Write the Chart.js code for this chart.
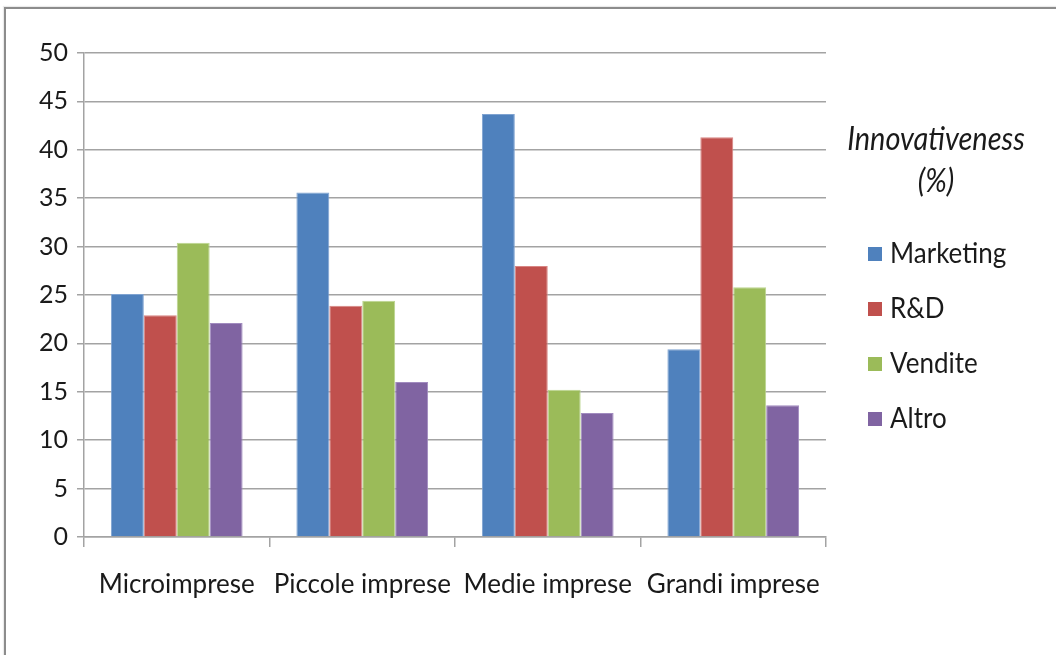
<!DOCTYPE html>
<html>
<head>
<meta charset="utf-8">
<script src="https://cdn.jsdelivr.net/npm/chart.js@4/dist/chart.umd.min.js"></script>
<style>
  html, body { margin: 0; padding: 0; background: #ffffff; overflow: hidden; }
  #wrap { position: relative; width: 1056px; height: 655px; }
  #frame {
    position: absolute; left: 4px; top: 7px; width: 1100px; height: 700px;
    border-left: 2px solid #8c8c8c; border-top: 2px solid #8c8c8c;
    box-shadow: -1px -1px 1px rgba(0,0,0,0.08);
  }
  #c { position: absolute; left: 0; top: 0; }
</style>
</head>
<body>
<div id="wrap">
  <div id="frame"></div>
  <canvas id="c" width="1056" height="655"></canvas>
</div>
<script>
// Innovativeness by company size and business function (%)
const categories = ['Microimprese', 'Piccole imprese', 'Medie imprese', 'Grandi imprese'];
const seriesNames = ['Marketing', 'R&D', 'Vendite', 'Altro'];
const marketing = [25.1, 35.6, 43.7, 19.4];
const rnd       = [22.9, 23.9, 28.0, 41.3];
const vendite   = [30.4, 24.4, 15.2, 25.8];
const altro     = [22.1, 16.0, 12.8, 13.6];
const yTicks    = [0, 5, 10, 15, 20, 25, 30, 35, 40, 45, 50];
const legendTitle = ['Innovativeness', '(%)'];

const fills   = ['#4F81BD', '#C0504D', '#9BBB59', '#8064A2'];
const borders = ['#7fa3d1', '#d88583', '#bcd58f', '#a18bbf'];
const seriesValues = [marketing, rnd, vendite, altro];

const FONT = 'Lato, "Open Sans", "DejaVu Sans", sans-serif';
const GRID = '#a3a3a3';

// Text drawn slightly taller than wide, like the narrow office font
function tallText(ctx, text, x, y, sy) {
  ctx.save();
  ctx.translate(x, y);
  ctx.scale(1, sy);
  ctx.fillText(text, 0, 0);
  ctx.restore();
}

// Legend on the right: italic title and square swatches
const sideLegend = {
  id: 'sideLegend',
  afterDraw(chart) {
    const ctx = chart.ctx;
    ctx.save();
    ctx.fillStyle = '#1a1a1a';
    ctx.textAlign = 'center';
    ctx.textBaseline = 'middle';
    ctx.font = 'italic 29px ' + FONT;
    tallText(ctx, legendTitle[0], 936, 140, 1.1);
    tallText(ctx, legendTitle[1], 936, 182, 1.1);
    ctx.textAlign = 'left';
    ctx.font = '26px ' + FONT;
    chart.data.datasets.forEach((ds, i) => {
      const y = 254 + i * 55;
      ctx.fillStyle = ds.backgroundColor;
      ctx.fillRect(868, y - 7, 14, 14);
      ctx.fillStyle = '#1a1a1a';
      tallText(ctx, ds.label, 890, y, 1.12);
    });
    ctx.restore();
  }
};

new Chart(document.getElementById('c'), {
  type: 'bar',
  data: {
    labels: categories,
    datasets: seriesNames.map((name, i) => ({
      label: name,
      data: seriesValues[i],
      backgroundColor: fills[i],
      borderColor: borders[i],
      borderWidth: 1,
      categoryPercentage: 0.71,
      barPercentage: 1.0
    }))
  },
  options: {
    responsive: false,
    animation: false,
    layout: { padding: { left: 0, right: 230, top: 53, bottom: 0 } },
    plugins: {
      legend: { display: false },
      tooltip: { enabled: false }
    },
    scales: {
      x: {
        afterFit(s) { s.height = 118; },
        grid: {
          offset: true,
          drawOnChartArea: false,
          drawTicks: true,
          tickLength: 10,
          color: GRID,
          lineWidth: 1.5
        },
        border: { color: GRID, width: 1.5 },
        ticks: {
          color: '#1a1a1a',
          font: { family: FONT, size: 26 },
          padding: 22,
          maxRotation: 0,
          autoSkip: false
        }
      },
      y: {
        min: 0,
        max: 50,
        afterFit(s) { s.width = 84; },
        afterBuildTicks(s) { s.ticks = yTicks.map(v => ({ value: v })); },
        grid: {
          color: GRID,
          lineWidth: 1.5,
          tickLength: 7
        },
        border: { color: GRID, width: 1.5 },
        ticks: {
          color: '#1a1a1a',
          font: { family: FONT, size: 25 },
          padding: 9
        }
      }
    }
  },
  plugins: [sideLegend]
});
</script>
</body>
</html>
